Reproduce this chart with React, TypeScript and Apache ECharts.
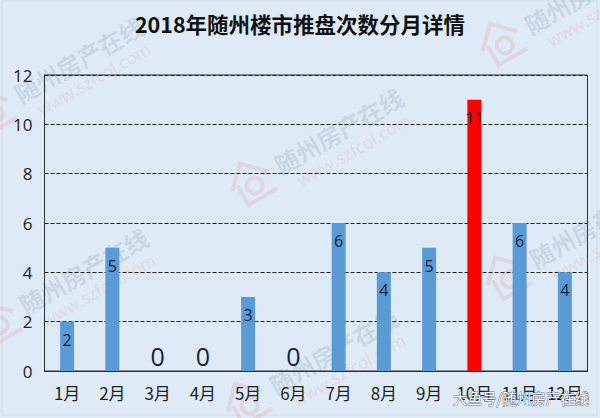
import React, { useEffect, useRef } from "react";
import * as echarts from "echarts";

const months = ["1月", "2月", "3月", "4月", "5月", "6月", "7月", "8月", "9月", "10月", "11月", "12月"];
const counts = [2, 5, 0, 0, 3, 0, 6, 4, 5, 11, 6, 4];
const peakMonth = "10月";
const titleText = "2018年随州楼市推盘次数分月详情";
const markName = "随州房产在线";
const markSite = "www.szfcol.com";
const sourceText = "大鱼号/随州房产在线";

// watermark anchors, start of the name text
const markSpots = [
    [17, 97],
    [277, 168],
    [527, 28],
    [22, 308],
    [532, 262],
    [272, 388],
];

// roof, walls and the ring inside the house
const houseIcon = "M0 20L20 0L40 20M7 18L7 40L40 40M30 26A8 8 0 1 0 14 26A8 8 0 1 0 30 26";
echarts.graphic.registerShape("houseMark", echarts.graphic.extendPath(houseIcon, {}) as any);

const watermark = (x: number, y: number) => ({
    type: "group",
    x,
    y,
    rotation: 0.52,
    silent: true,
    children: [
        {
            type: "houseMark",
            x: -50,
            y: -22,
            style: { fill: "none", stroke: "rgba(232,150,170,0.26)", lineWidth: 4 },
        },
        {
            type: "text",
            x: 0,
            y: -14,
            style: {
                text: markName,
                fontFamily: "Noto Sans CJK SC",
                fontSize: 24,
                fontWeight: "bold",
                fill: "rgba(110,125,150,0.19)",
            },
        },
        {
            type: "text",
            x: 12,
            y: 14,
            style: {
                text: markSite,
                fontFamily: "Open Sans",
                fontSize: 17,
                fill: "rgba(232,150,170,0.24)",
            },
        },
    ],
});

export default function App() {
    const chartRef = useRef<HTMLDivElement>(null);

    useEffect(() => {
        document.body.style.margin = "0";
        const chart = echarts.init(chartRef.current!, null, { renderer: "svg" });

        chart.setOption({
            animation: false,
            backgroundColor: "#DEEBF7",
            title: {
                text: titleText,
                left: "center",
                top: 8,
                textStyle: {
                    fontFamily: "Noto Sans CJK SC",
                    fontSize: 21.5,
                    fontWeight: "bold",
                    color: "#111",
                },
            },
            grid: {
                show: true,
                left: 44.5,
                right: 12.5,
                top: 75,
                bottom: 47,
                borderColor: "#263238",
                borderWidth: 1,
            },
            xAxis: {
                type: "category",
                data: months,
                axisLine: { lineStyle: { color: "#263238", width: 1 } },
                axisTick: { show: false },
                axisLabel: {
                    color: "#222",
                    fontSize: 17,
                    margin: 13,
                    interval: 0,
                    fontFamily: "Noto Sans CJK SC",
                },
            },
            yAxis: {
                type: "value",
                min: 0,
                max: 12,
                interval: 2,
                axisLine: { show: true, lineStyle: { color: "#263238", width: 1 } },
                axisTick: { show: false },
                axisLabel: { color: "#222", fontSize: 17, margin: 12, fontFamily: "Open Sans" },
                splitLine: { lineStyle: { color: "#222", type: "dashed", width: 1 } },
            },
            series: [
                {
                    type: "bar",
                    barWidth: 14,
                    data: counts.map((value, i) => ({
                        value,
                        itemStyle: { color: months[i] === peakMonth ? "#FF0000" : "#5B9BD5" },
                        label:
                            value === 0
                                ? { position: "top", distance: 3, fontSize: 25 }
                                : { position: "insideTop", distance: 10, fontSize: 16 },
                    })),
                    label: {
                        show: true,
                        color: "#14233c",
                        fontFamily: "Open Sans",
                    },
                },
            ],
            graphic: [
                {
                    type: "rect",
                    silent: true,
                    shape: { x: 2, y: 1, width: 595, height: 414 },
                    style: { fill: "none", stroke: "#D4DCE4", lineWidth: 1 },
                },
                ...markSpots.map(([x, y]) => watermark(x, y)),
                {
                    type: "text",
                    x: 453,
                    y: 390,
                    z: 20,
                    silent: true,
                    style: {
                        text: sourceText,
                        fontFamily: "Noto Sans CJK SC",
                        fontSize: 14.5,
                        fill: "#fff",
                        stroke: "rgba(60,70,90,0.75)",
                        lineWidth: 1,
                    },
                },
            ],
        });

        return () => {
            chart.dispose();
        };
    }, []);

    return <div ref={chartRef} style={{ width: "600px", height: "418px" }} />;
}
